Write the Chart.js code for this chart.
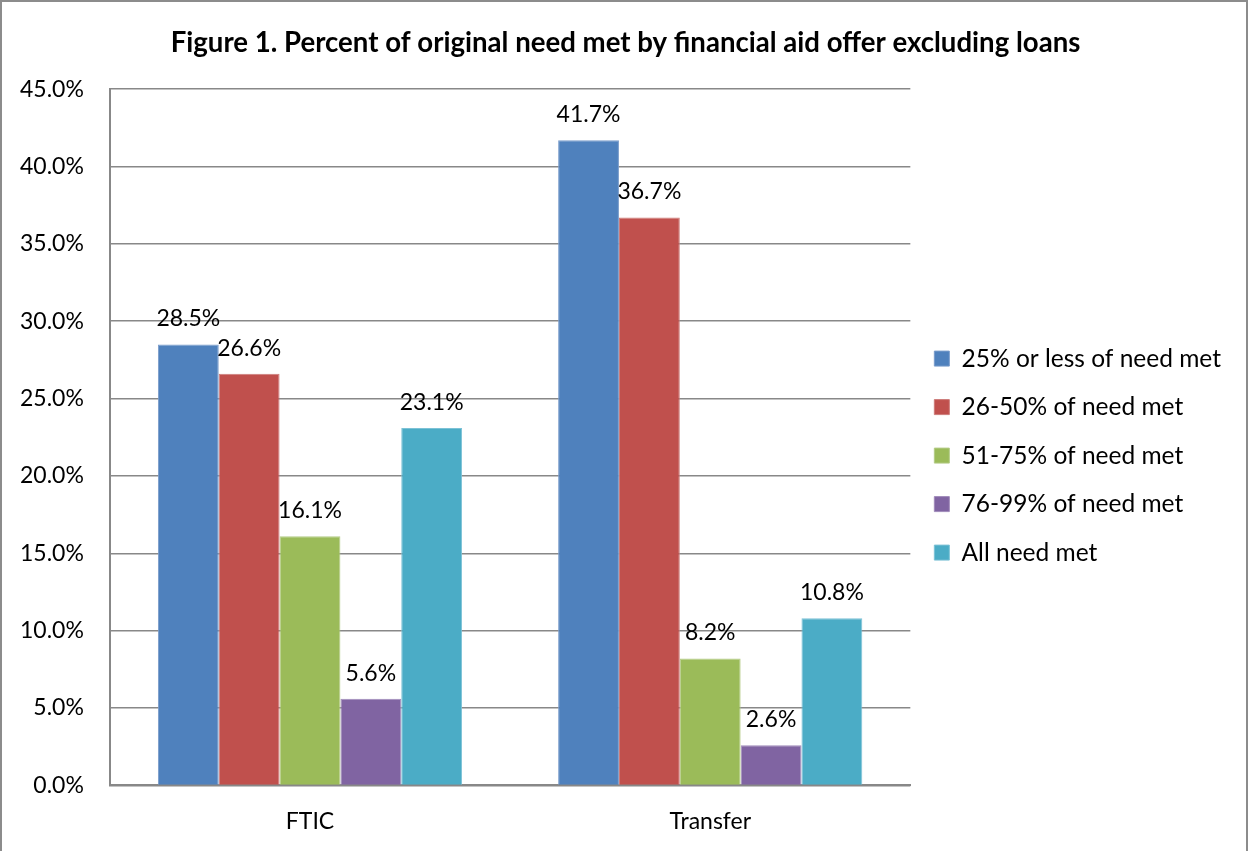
<!DOCTYPE html>
<html>
<head>
<meta charset="utf-8">
<script src="https://cdn.jsdelivr.net/npm/chart.js@4/dist/chart.umd.min.js"></script>
<style>
  body { margin: 0; background: #fff; }
  #wrap { width: 1249px; height: 851px; }
</style>
</head>
<body>
<div id="wrap"><canvas id="c" width="1249" height="851"></canvas></div>
<script>
// categories and series
const categories = ['FTIC', 'Transfer'];
const seriesNames = [
    '25% or less of need met',
    '26-50% of need met',
    '51-75% of need met',
    '76-99% of need met',
    'All need met'
];
const lessThan25 = [28.5, 41.7];
const from26to50 = [26.6, 36.7];
const from51to75 = [16.1, 8.2];
const from76to99 = [5.6, 2.6];
const allNeedMet = [23.1, 10.8];

const colors = ['#4F81BD', '#C0504D', '#9BBB59', '#8064A2', '#4BACC6'];
const borders = ['#7A9CCB', '#CD7B79', '#B4CC87', '#A08BBA', '#7CC2D6'];
const FONT = 'Lato, "Open Sans", sans-serif';

const seriesValues = [lessThan25, from26to50, from51to75, from76to99, allNeedMet];

const datasets = seriesValues.map((vals, i) => ({
    label: seriesNames[i],
    data: vals,
    backgroundColor: colors[i],
    borderColor: borders[i],
    borderWidth: 1
}));

// white background and grey frame round the whole figure
const frame = {
    id: 'frame',
    afterLayout(chart) {
        // centre the title on the whole figure, not only the padded box
        const t = chart.titleBlock;
        if (t) {
            const half = (t.right - t.left) / 2;
            t.left = chart.width / 2 + 1 - half;
            t.right = chart.width / 2 + 1 + half;
        }
    },
    beforeDraw(chart) {
        const ctx = chart.ctx;
        ctx.save();
        ctx.fillStyle = '#fff';
        ctx.fillRect(0, 0, chart.width, chart.height);
        ctx.strokeStyle = '#8c8c8c';
        ctx.lineWidth = 2;
        ctx.strokeRect(1, 1, chart.width - 3, chart.height + 4);
        ctx.restore();
    }
};

// value labels above the bars
const barLabels = {
    id: 'barLabels',
    afterDatasetsDraw(chart) {
        const ctx = chart.ctx;
        ctx.save();
        ctx.font = '23px ' + FONT;
        ctx.fillStyle = '#000';
        ctx.textAlign = 'center';
        ctx.textBaseline = 'bottom';
        chart.data.datasets.forEach((ds, i) => {
            chart.getDatasetMeta(i).data.forEach((bar, j) => {
                ctx.fillText(ds.data[j].toFixed(1) + '%', bar.x, bar.y - 14);
            });
        });
        ctx.restore();
    }
};

new Chart(document.getElementById('c'), {
    type: 'bar',
    data: { labels: categories, datasets: datasets },
    options: {
        responsive: false,
        animation: false,
        layout: { padding: { left: -6, right: 18, top: 0, bottom: 2 } },
        datasets: { bar: { categoryPercentage: 0.76, barPercentage: 1 } },
        plugins: {
            title: {
                display: true,
                text: 'Figure 1. Percent of original need met by financial aid offer excluding loans',
                color: '#000',
                font: { family: FONT, size: 27.6, weight: 'bold' },
                padding: { top: 27, bottom: 29 }
            },
            legend: {
                position: 'right',
                maxWidth: 340,
                title: { display: true, text: ' ', font: { size: 1 }, padding: { top: 0, bottom: 61 } },
                labels: {
                    color: '#000',
                    font: { family: FONT, size: 24.5 },
                    boxWidth: 15,
                    boxHeight: 15,
                    padding: 24
                }
            },
            tooltip: { enabled: false }
        },
        scales: {
            x: {
                grid: { display: false },
                border: { color: '#888', width: 2 },
                ticks: { color: '#000', font: { family: FONT, size: 23 }, padding: 14 }
            },
            y: {
                min: 0,
                max: 45,
                grid: { color: '#888', lineWidth: 1.5, drawTicks: false },
                border: { color: '#888', width: 2 },
                ticks: {
                    stepSize: 5,
                    color: '#000',
                    font: { family: FONT, size: 23 },
                    padding: 26,
                    callback: v => v.toFixed(1) + '%'
                }
            }
        }
    },
    plugins: [frame, barLabels]
});
</script>
</body>
</html>
